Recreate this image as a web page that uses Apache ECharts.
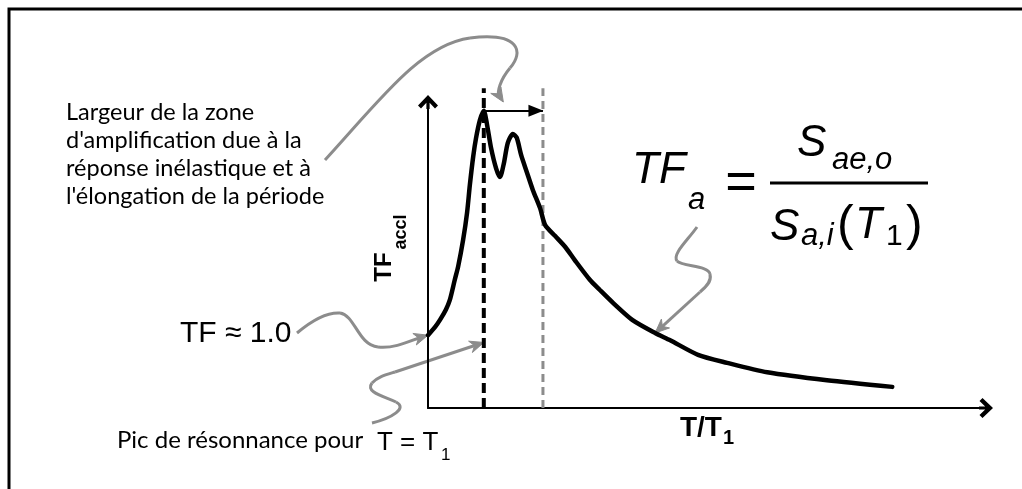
<!DOCTYPE html>
<html>
<head>
<meta charset="utf-8">
<script src="https://cdn.jsdelivr.net/npm/echarts@6/dist/echarts.min.js"></script>
<style>
  html, body { margin: 0; padding: 0; background: #fff; }
  #chart { width: 1022px; height: 489px; }
</style>
</head>
<body>
<div id="chart"></div>
<script>
// Acceleration transfer function TF_accl against the period ratio T/T1
const ratioT = [0, 0.125, 0.215, 0.32, 0.39, 0.48, 0.54, 0.63, 0.70, 0.75, 0.81, 0.86, 0.93, 1.0,
  1.06, 1.13, 1.22, 1.29, 1.36, 1.43, 1.52, 1.59, 1.67, 1.77, 1.88, 2.01, 2.10, 2.28, 2.46, 2.63,
  2.90, 3.08, 3.32, 3.66, 4.07, 4.34, 4.84, 5.36, 6.08, 7.15, 8.32];
const tfAccl = [1.0, 1.11, 1.21, 1.35, 1.48, 1.76, 1.94, 2.31, 2.68, 3.06, 3.45, 3.70, 3.95, 4.08,
  3.88, 3.57, 3.29, 3.17, 3.36, 3.64, 3.76, 3.71, 3.47, 3.24, 2.99, 2.74, 2.51, 2.36, 2.21, 2.03,
  1.76, 1.62, 1.44, 1.21, 1.03, 0.93, 0.73, 0.62, 0.49, 0.38, 0.29];

// Guide lines: resonance at T = T1 and end of the amplification zone
const resonanceT = 1.0;
const zoneEndT = 2.06;
const guideTop = 4.39;
const zoneArrowTF = 4.08;
const axisMaxT = 10;
const axisMaxTF = 4.2;

// Annotation texts
const zoneText = ["Largeur de la zone", "d'amplification due à la", "réponse inélastique et à", "l'élongation de la période"];
const startText = "TF ≈ 1.0";
const peakText = "Pic de résonnance pour";

const ARIAL = "'Liberation Sans', Arial, sans-serif";
const CALIBRI = "Lato, 'Open Sans', sans-serif";
const GRAY = '#8c8c8c';

// Chevron with stem, used as axis arrowhead
const chevron = 'path://M10,0 L20,10.5 L17,13.5 L11.6,7.8 L11.6,14 L8.4,14 L8.4,7.8 L3,13.5 L0,10.5 Z';

const chart = echarts.init(document.getElementById('chart'), null, { renderer: 'canvas' });

chart.setOption({
  animation: false,
  backgroundColor: '#fff',
  grid: { left: 428, right: 36, top: 102, bottom: 81, containLabel: false, outerBoundsMode: 'none' },
  xAxis: {
    type: 'value', min: 0, max: axisMaxT,
    axisLine: { show: true, symbol: ['none', chevron], symbolSize: [20, 14], lineStyle: { color: '#000', width: 2 } },
    axisTick: { show: false }, axisLabel: { show: false }, splitLine: { show: false },
    name: '{a|T/T}{b|1}', nameLocation: 'middle', nameGap: 6,
    nameTextStyle: {
      rich: {
        a: { fontFamily: ARIAL, fontWeight: 'bold', fontSize: 28, lineHeight: 30, color: '#000', verticalAlign: 'top' },
        b: { fontFamily: ARIAL, fontWeight: 'bold', fontSize: 20, lineHeight: 20, color: '#000', verticalAlign: 'top', padding: [14, 0, 0, 1] }
      }
    }
  },
  yAxis: {
    type: 'value', min: 0, max: axisMaxTF,
    axisLine: { show: true, symbol: ['none', chevron], symbolSize: [20, 14], lineStyle: { color: '#000', width: 2 } },
    axisTick: { show: false }, axisLabel: { show: false }, splitLine: { show: false }
  },
  series: [
    {
      name: 'T = T1', type: 'line', clip: false, symbol: 'none', silent: true,
      data: [[resonanceT, 0], [resonanceT, guideTop]],
      lineStyle: { color: '#000', width: 4, type: [10, 5] },
      markLine: {
        silent: true, symbol: ['none', 'triangle'], symbolSize: [12, 15],
        symbolOffset: [0, [0, 7]],
        label: { show: false },
        lineStyle: { color: '#000', width: 2, type: 'solid' },
        data: [[{ coord: [resonanceT, zoneArrowTF] }, { coord: [zoneEndT, zoneArrowTF] }]]
      }
    },
    {
      name: 'zone', type: 'line', clip: false, symbol: 'none', silent: true,
      data: [[zoneEndT, 0], [zoneEndT, guideTop]],
      lineStyle: { color: GRAY, width: 3, type: [8, 5] }
    },
    {
      name: 'TF_accl', type: 'line', symbol: 'none', smooth: 0.25, silent: true,
      data: ratioT.map((t, i) => [t, tfAccl[i]]),
      lineStyle: { color: '#000', width: 4.5, cap: 'round', join: 'round' }
    }
  ]
});

// Curved gray pointer ending in an arrowhead at "tip"
function pointer(start, segs, tip) {
  const els = [];
  const stroke = { stroke: GRAY, lineWidth: 3, fill: null };
  let p = start;
  let ctrl = start;
  segs.forEach((s, i) => {
    const last = i === segs.length - 1;
    const c = s.length === 6 ? [s[2], s[3]] : p;
    let end = last ? tip : [s[s.length - 2], s[s.length - 1]];
    if (last) {
      const dx = tip[0] - c[0], dy = tip[1] - c[1], L = Math.hypot(dx, dy);
      end = [tip[0] - dx / L * 8, tip[1] - dy / L * 8];
    }
    if (s.length === 6) {
      els.push({ type: 'bezierCurve', silent: true, shape: { x1: p[0], y1: p[1], cpx1: s[0], cpy1: s[1], cpx2: s[2], cpy2: s[3], x2: end[0], y2: end[1] }, style: stroke });
      ctrl = [s[2], s[3]];
    } else {
      els.push({ type: 'line', silent: true, shape: { x1: p[0], y1: p[1], x2: end[0], y2: end[1] }, style: stroke });
      ctrl = p;
    }
    p = end;
  });
  const dx = tip[0] - ctrl[0], dy = tip[1] - ctrl[1], L = Math.hypot(dx, dy);
  const ux = dx / L, uy = dy / L, nx = -uy, ny = ux;
  const len = 14, half = 6;
  const bx = tip[0] - ux * len, by = tip[1] - uy * len;
  els.push({
    type: 'polygon', silent: true,
    shape: { points: [tip, [bx + nx * half, by + ny * half], [tip[0] - ux * len * 0.7, tip[1] - uy * len * 0.7], [bx - nx * half, by - ny * half]] },
    style: { fill: GRAY, stroke: GRAY, lineWidth: 1 }
  });
  return els;
}

function txt(text, x, y, font, extra, rotation) {
  return {
    type: 'text', x: x, y: y, silent: true, rotation: rotation || 0,
    style: Object.assign({ text: text, font: font, fill: '#000', align: 'left', verticalAlign: 'middle', textAlign: 'left', textVerticalAlign: 'middle' }, extra || {})
  };
}

const px = (v) => chart.convertToPixel({ gridIndex: 0 }, v);

const graphics = [];
// frame
graphics.push({ type: 'polyline', silent: true, shape: { points: [[9, 489], [9, 9], [1022, 9]] }, style: { stroke: '#000', lineWidth: 3, fill: null } });

// vertical axis title TF_accl (rotated, reading upwards)
const centered = { align: 'center', textAlign: 'center' };
graphics.push(txt('TF', 384, 267, 'bold 24px ' + ARIAL, centered, Math.PI / 2));
graphics.push(txt('accl', 401, 232, 'bold 18px ' + ARIAL, centered, Math.PI / 2));

// annotation texts
graphics.push({
  type: 'text', x: 66, y: 98, silent: true,
  style: { text: zoneText.join('\n'), font: '23.5px ' + CALIBRI, lineHeight: 28, fill: '#000', align: 'left', verticalAlign: 'top', textAlign: 'left', textVerticalAlign: 'top' }
});
graphics.push(txt(startText, 180, 334, '30px ' + ARIAL));
graphics.push(txt(peakText, 117, 440, '24px ' + CALIBRI));
graphics.push(txt('T = T', 377, 443, '26px ' + ARIAL));
graphics.push(txt('1', 441, 455, '17px ' + ARIAL));

// formula TF_a = S_ae,o / S_a,i(T_1)
const IT = 'italic 44px ' + ARIAL, ITS = 'italic 31px ' + ARIAL;
graphics.push(txt('TF', 632, 171, IT));
graphics.push(txt('a', 688, 200, ITS));
graphics.push(txt('=', 741, 184, '54px ' + ARIAL, centered));
graphics.push({ type: 'line', silent: true, shape: { x1: 770, y1: 183, x2: 928, y2: 183 }, style: { stroke: '#000', lineWidth: 3 } });
graphics.push(txt('S', 797, 144, IT));
graphics.push(txt('ae,o', 832, 160, ITS));
graphics.push(txt('S', 770, 228, IT));
graphics.push(txt('a,i', 801, 236, ITS));
graphics.push(txt('(', 837, 226, '50px ' + ARIAL));
graphics.push(txt('T', 855, 226, IT));
graphics.push(txt('1', 886, 237, '30px ' + ARIAL));
graphics.push(txt(')', 906, 226, '50px ' + ARIAL));

// gray pointers
graphics.push(...pointer([325, 160], [[380, 100, 420, 45, 470, 38], [520, 32, 524, 52, 510, 68], [500, 80, 497, 92, 0, 0]], px([1.35, 4.2])));
graphics.push(...pointer([297, 333], [[310, 322, 325, 312, 340, 313], [355, 315, 358, 345, 378, 347], [395, 349, 412, 340, 0, 0]], px([0, 1.0])));
graphics.push(...pointer([372, 423], [[392, 418, 408, 408, 396, 402], [383, 396, 365, 392, 372, 383], [377, 377, 385, 375, 395, 372], [0, 0]], px([resonanceT, 0.9])));
graphics.push(...pointer([697, 227], [[688, 240, 672, 254, 677, 261], [683, 267, 708, 265, 710, 274], [712, 282, 705, 288, 700, 292], [0, 0]], px([4.07, 1.03])));

chart.setOption({ graphic: graphics });
</script>
</body>
</html>
